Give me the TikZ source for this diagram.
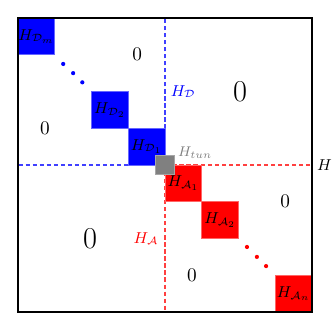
\documentclass[tikz,border=0pt]{standalone}
\usepackage{amsmath,amssymb}
\usepackage{tikz}
\usetikzlibrary{positioning}

\begin{document}
\begin{tikzpicture}[
    x=7.35mm, y=-7.35mm,
    dblock/.style={rectangle, draw=blue!60, fill=blue, minimum size=7.35mm,
                   inner sep=0pt, font=\small},
    ablock/.style={rectangle, draw=red!60, fill=red, minimum size=7.35mm,
                   inner sep=0pt, font=\small},
    tunblock/.style={rectangle, draw=gray!70, fill=gray, minimum size=3.675mm, inner sep=0pt},
    part/.style={line width=0.7pt, dash pattern=on 2.4pt off 1.6pt},
    zero/.style={font=\fontsize{11}{13}\selectfont},
    bigzero/.style={font=\LARGE},
    dotmark/.style={circle, inner sep=0pt, minimum size=2.4pt},
  ]
    \useasboundingbox (-0.49,-0.49) rectangle (8.544,8.49);

    % sub-blocks
    \draw[part, blue!75] (0,0) rectangle (4,4);
    \draw[part, red!75] (4,4) rectangle (8,8);

    % diagonal blocks
    \node[dblock] (Dm) at (0.5,0.5) {$H_{\mathcal{D}_m}$};
    \node[dblock] (D2) at (2.5,2.5) {$H_{\mathcal{D}_2}$};
    \node[dblock] (D1) at (3.5,3.5) {$H_{\mathcal{D}_1}$};
    \node[ablock] (A1) at (4.5,4.5) {$H_{\mathcal{A}_1}$};
    \node[ablock] (A2) at (5.5,5.5) {$H_{\mathcal{A}_2}$};
    \node[ablock] (An) at (7.5,7.5) {$H_{\mathcal{A}_n}$};
    \node[tunblock] (tun) at (4,4) {};

    \node[dotmark, fill=blue] (bd1) at (1.23,1.25) {};
    \node[dotmark, fill=blue] (bd2) at (1.5,1.5) {};
    \node[dotmark, fill=blue] (bd3) at (1.75,1.75) {};
    \node[dotmark, fill=red] (rd1) at (6.23,6.23) {};
    \node[dotmark, fill=red] (rd2) at (6.5,6.5) {};
    \node[dotmark, fill=red] (rd3) at (6.75,6.75) {};

    % zero blocks
    \node[zero] (z1) at (3.24,1) {$0$};
    \node[zero] (z2) at (0.73,3) {$0$};
    \node[bigzero] (z3) at (6.04,2) {$0$};
    \node[zero] (z4) at (7.27,5) {$0$};
    \node[bigzero] (z5) at (1.96,6) {$0$};
    \node[zero] (z6) at (4.73,7) {$0$};

    % labels
    \node[font=\small, text=blue, anchor=west, inner sep=1pt] (lD) at (4.1,2) {$H_{\mathcal{D}}$};
    \node[font=\small, text=red, anchor=east, inner sep=1pt] (lA) at (3.88,6) {$H_{\mathcal{A}}$};
    \node[font=\footnotesize, text=gray, anchor=west, inner sep=1pt] (lT) at (4.3,3.67) {$H_{tun}$};
    \node[font=\small, anchor=west, inner sep=1pt] (lH) at (8.08,4) {$H$};

    \draw[thick] (0,0) rectangle (8,8);
\end{tikzpicture}
\end{document}
